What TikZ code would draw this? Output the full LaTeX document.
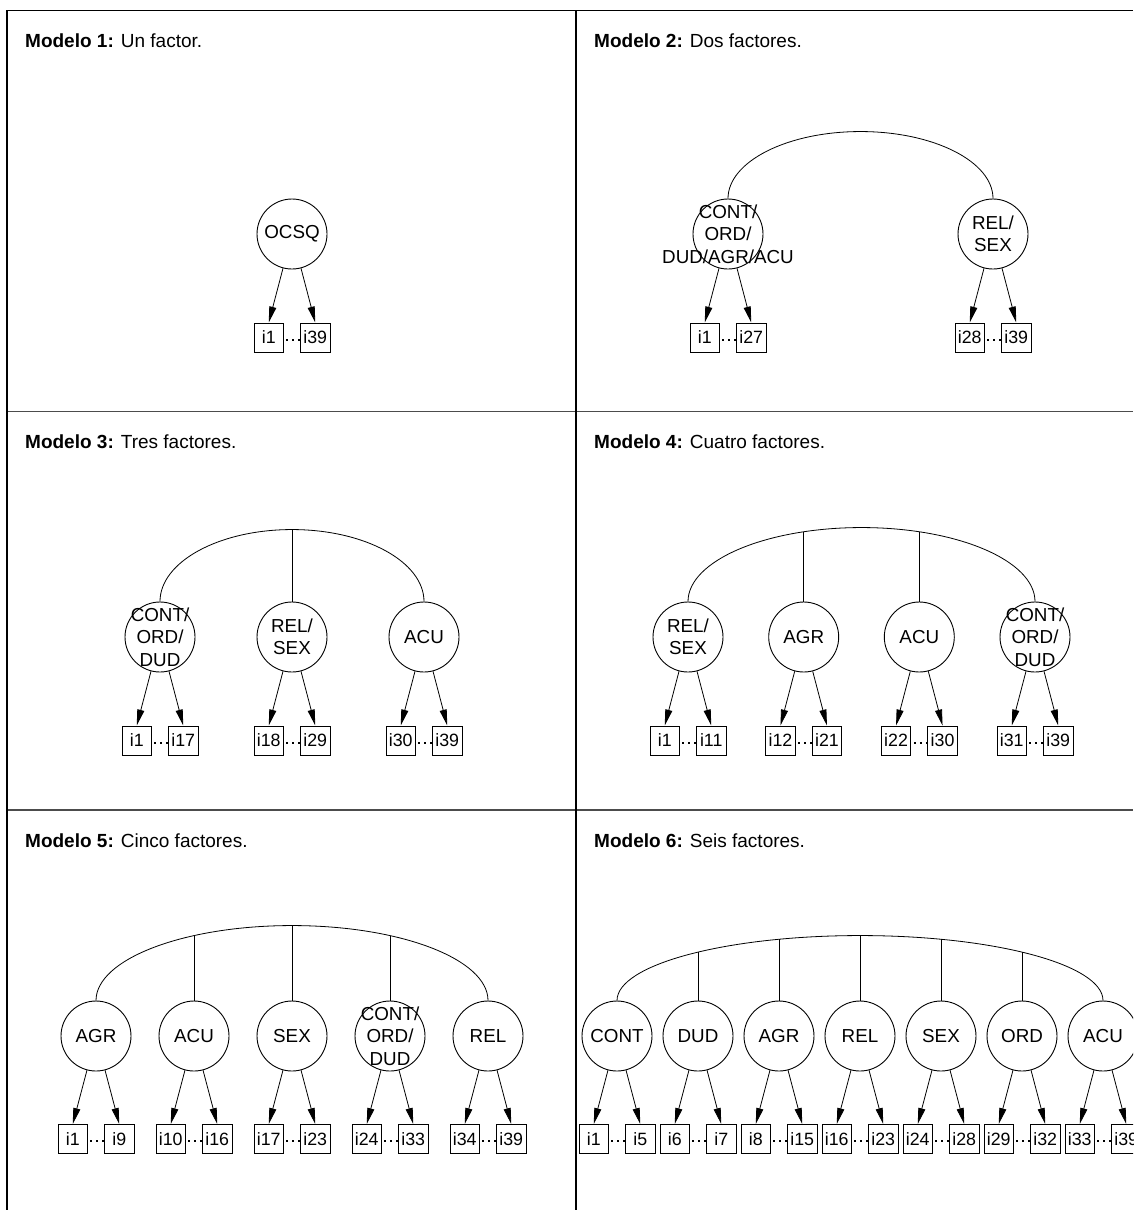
\documentclass[tikz,border=0pt]{standalone}
\usepackage{fontspec}
\setmainfont{Liberation Sans}
\usetikzlibrary{arrows.meta}

% one latent factor with its first and last indicator
% #1 name, #2 x, #3 circle y, #4 box y, #5 label, #6 first item, #7 last item
\newcommand\facunit[7]{%
  \node[fac] (#1) at (#2,#3) {};
  \node[factxt] (#1-t) at (#1) {#5};
  \node[item] (#1-a) at ({#2-23.25},#4) {#6};
  \node[item] (#1-b) at ({#2+23.25},#4) {#7};
  \draw[load] (#1) -- (#1-a.north);
  \draw[load] (#1) -- (#1-b.north);
  \draw[gap] ([yshift=-2]#1-a.east) -- ([yshift=-2]#1-b.west);
}
% covariance arc over a row of factors: #1 first node, #2 x radius, #3 y radius
\newcommand\covarc[3]{%
  \draw[cov] (#1.north) arc[start angle=180, end angle=0, x radius=#2, y radius=#3];
}
% drop from the arc to an inner factor: #1 node, #2 node x, #3 arc centre x, #4 rx, #5 ry
\newcommand\covdrop[5]{%
  \draw[cov] (#1.north) -- ++(0,{#5*sqrt(1-((#2-#3)/#4)^2)});
}

\begin{document}
\begin{tikzpicture}[x=1pt,y=1pt,
  fac/.style={circle, draw, line width=0.9pt, minimum size=70pt, inner sep=0pt},
  factxt/.style={align=center, font=\fontsize{18.8}{22.5}\selectfont, inner sep=0pt},
  item/.style={draw, line width=0.9pt, minimum width=29.5pt, minimum height=29pt,
    inner sep=0pt, font=\fontsize{17.8}{20}\selectfont},
  load/.style={-{Triangle[length=16pt,width=7pt]}, line width=0.8pt},
  cov/.style={line width=0.8pt},
  gap/.style={line width=2pt, dash pattern=on 2pt off 4pt, dash phase=3.5pt},
  frame/.style={line width=1.2pt, black},
  rowline/.style={line width=1.2pt, black!70},
  title/.style={anchor=base west, inner sep=0pt, font=\fontsize{19}{22}\selectfont}]

\useasboundingbox (0,0) rectangle (1133,-1210);
\clip (0,0) rectangle (1133,-1210);

% table grid
\draw[rowline] (7,-411.5) -- (1133,-411.5);
\draw[rowline] (7,-810) -- (1133,-810);
\draw[frame] (7,-1210) -- (7,-10.5) -- (1133,-10.5);
\draw[frame] (576,-10.5) -- (576,-1210);

% titles
\node[title] (t1) at (25,-47)   {\textbf{Modelo 1:} Un factor.};
\node[title] (t2) at (594,-47)  {\textbf{Modelo 2:} Dos factores.};
\node[title] (t3) at (25,-448)  {\textbf{Modelo 3:} Tres factores.};
\node[title] (t4) at (594,-448) {\textbf{Modelo 4:} Cuatro factores.};
\node[title] (t5) at (25,-847)  {\textbf{Modelo 5:} Cinco factores.};
\node[title] (t6) at (594,-847) {\textbf{Modelo 6:} Seis factores.};

% Modelo 1
\facunit{ma}{292}{-234}{-337.5}{OCSQ}{i1}{i39}

% Modelo 2
\facunit{mba}{728}{-234}{-337.5}{CONT/\\ORD/\\DUD/AGR/ACU}{i1}{i27}
\facunit{mbb}{993}{-234}{-337.5}{REL/\\SEX}{i28}{i39}
\covarc{mba}{132.5}{67}

% Modelo 3
\facunit{mca}{160}{-637}{-740.5}{CONT/\\ORD/\\DUD}{i1}{i17}
\facunit{mcb}{292}{-637}{-740.5}{REL/\\SEX}{i18}{i29}
\facunit{mcc}{424}{-637}{-740.5}{ACU}{i30}{i39}
\covarc{mca}{132}{72}
\covdrop{mcb}{292}{292}{132}{72}

% Modelo 4
\facunit{mda}{688}{-637}{-740.5}{REL/\\SEX}{i1}{i11}
\facunit{mdb}{803.7}{-637}{-740.5}{AGR}{i12}{i21}
\facunit{mdc}{919.3}{-637}{-740.5}{ACU}{i22}{i30}
\facunit{mdd}{1035}{-637}{-740.5}{CONT/\\ORD/\\DUD}{i31}{i39}
\covarc{mda}{173.5}{74}
\covdrop{mdb}{803.7}{861.5}{173.5}{74}
\covdrop{mdc}{919.3}{861.5}{173.5}{74}

% Modelo 5
\facunit{mea}{96}{-1036}{-1139}{AGR}{i1}{i9}
\facunit{meb}{194}{-1036}{-1139}{ACU}{i10}{i16}
\facunit{mec}{292}{-1036}{-1139}{SEX}{i17}{i23}
\facunit{med}{390}{-1036}{-1139}{CONT/\\ORD/\\DUD}{i24}{i33}
\facunit{mee}{488}{-1036}{-1139}{REL}{i34}{i39}
\covarc{mea}{196}{75}
\covdrop{meb}{194}{292}{196}{75}
\covdrop{mec}{292}{292}{196}{75}
\covdrop{med}{390}{292}{196}{75}

% Modelo 6
\facunit{mfa}{617}{-1036}{-1139}{CONT}{i1}{i5}
\facunit{mfb}{698}{-1036}{-1139}{DUD}{i6}{i7}
\facunit{mfc}{779}{-1036}{-1139}{AGR}{i8}{i15}
\facunit{mfd}{860}{-1036}{-1139}{REL}{i16}{i23}
\facunit{mfe}{941}{-1036}{-1139}{SEX}{i24}{i28}
\facunit{mff}{1022}{-1036}{-1139}{ORD}{i29}{i32}
\facunit{mfg}{1103}{-1036}{-1139}{ACU}{i33}{i39}
\covarc{mfa}{243}{65}
\covdrop{mfb}{698}{860}{243}{65}
\covdrop{mfc}{779}{860}{243}{65}
\covdrop{mfd}{860}{860}{243}{65}
\covdrop{mfe}{941}{860}{243}{65}
\covdrop{mff}{1022}{860}{243}{65}

\end{tikzpicture}
\end{document}
